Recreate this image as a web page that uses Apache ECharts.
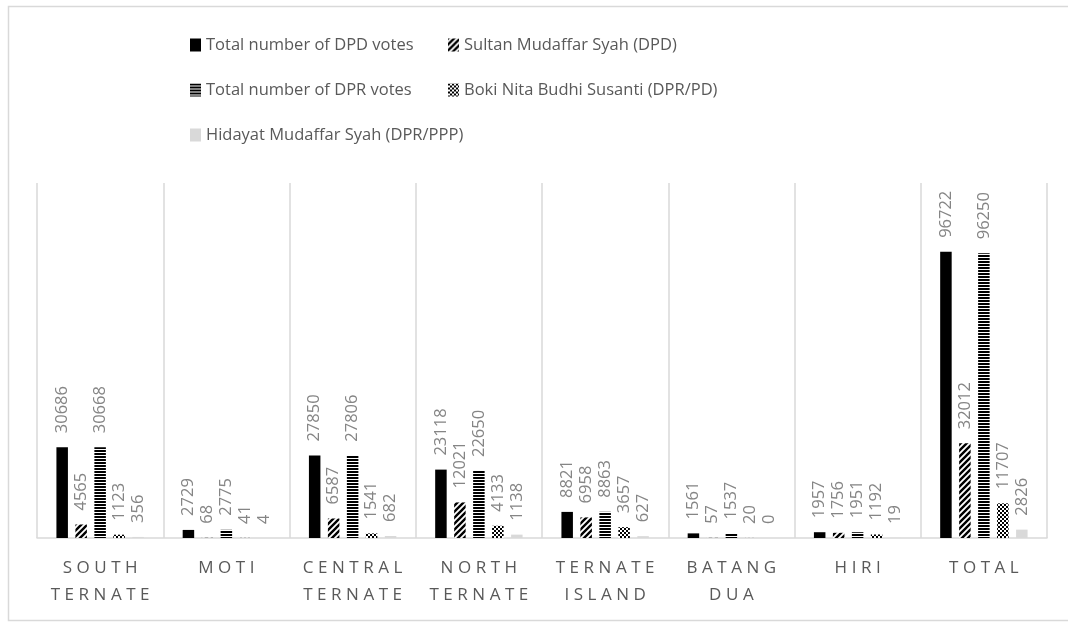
<!DOCTYPE html>
<html>
<head>
<meta charset="utf-8">
<script src="https://cdn.jsdelivr.net/npm/echarts@6/dist/echarts.min.js"></script>
<style>
  html, body { margin: 0; padding: 0; background: #fff; }
  #chart { width: 1068px; height: 622px; }
</style>
</head>
<body>
<div id="chart"></div>
<script>
// districts
const districts = ['SOUTH TERNATE', 'MOTI', 'CENTRAL TERNATE', 'NORTH TERNATE', 'TERNATE ISLAND', 'BATANG DUA', 'HIRI', 'TOTAL']
const seriesNames = [
    'Total number of DPD votes',
    'Sultan Mudaffar Syah (DPD)',
    'Total number of DPR votes',
    'Boki Nita Budhi Susanti (DPR/PD)',
    'Hidayat Mudaffar Syah (DPR/PPP)'
]
const dpdTotal = [30686, 2729, 27850, 23118, 8821, 1561, 1957, 96722]
const sultanDpd = [4565, 68, 6587, 12021, 6958, 57, 1756, 32012]
const dprTotal = [30668, 2775, 27806, 22650, 8863, 1537, 1951, 96250]
const bokiDpr = [1123, 41, 1541, 4133, 3657, 20, 1192, 11707]
const hidayatDpr = [356, 4, 682, 1138, 627, 0, 19, 2826]

// little canvas tiles for the excel-like fills
function tile(size, draw) {
    const c = document.createElement('canvas')
    c.width = size
    c.height = size
    const ctx = c.getContext('2d')
    ctx.fillStyle = '#fff'
    ctx.fillRect(0, 0, size, size)
    ctx.fillStyle = '#000'
    ctx.strokeStyle = '#000'
    draw(ctx, size)
    return {image: c, repeat: 'repeat'}
}

const diagFill = tile(6, function (ctx, s) {
    ctx.lineWidth = 2.4
    ctx.beginPath()
    ctx.moveTo(-1, s + 1); ctx.lineTo(s + 1, -1)
    ctx.moveTo(-1, 1); ctx.lineTo(1, -1)
    ctx.moveTo(s - 1, s + 1); ctx.lineTo(s + 1, s - 1)
    ctx.stroke()
})
const hLineFill = tile(3, function (ctx, s) {
    ctx.fillRect(0, 0, s, 2)
})
const checkFill = tile(4, function (ctx, s) {
    ctx.fillRect(0, 0, 2, 2)
    ctx.fillRect(2, 2, 2, 2)
})

const fills = ['#000000', diagFill, hLineFill, checkFill, '#d9d9d9']
const values = [dpdTotal, sultanDpd, dprTotal, bokiDpr, hidayatDpr]

const fontName = '"Open Sans", "Noto Sans", sans-serif'

function spaced(name) {
    return name.split(' ').map(w => w.split('').join('\u2009\u200A')).join('\n')
}

let series = []
for (let i = 0; i < seriesNames.length; i++) {
    series.push({
        name: seriesNames[i],
        type: 'bar',
        data: values[i],
        barWidth: 11.5,
        barGap: '65%',
        itemStyle: {color: fills[i]},
        label: {
            show: true,
            position: 'top',
            rotate: 90,
            align: 'left',
            verticalAlign: 'middle',
            distance: 14,
            color: '#858585',
            fontSize: 16.5,
            fontFamily: fontName
        },
        emphasis: {disabled: true}
    })
}

const legendText = {color: '#595959', fontSize: 16.5, fontFamily: fontName, lineHeight: 20}

const chart = echarts.init(document.getElementById('chart'))
chart.setOption({
    backgroundColor: '#ffffff',
    animation: false,
    graphic: [{
        type: 'rect',
        shape: {x: 8.5, y: 6.5, width: 1080, height: 614},
        style: {fill: 'none', stroke: '#d9d9d9', lineWidth: 1.5},
        silent: true
    }],
    legend: [{
        orient: 'vertical',
        left: 190,
        top: 35,
        padding: 0,
        itemWidth: 11,
        itemHeight: 13,
        itemGap: 25,
        icon: 'rect',
        textStyle: legendText,
        data: [seriesNames[0], seriesNames[2], seriesNames[4]],
        selectedMode: false
    }, {
        orient: 'vertical',
        left: 448,
        top: 35,
        padding: 0,
        itemWidth: 11,
        itemHeight: 13,
        itemGap: 25,
        icon: 'rect',
        textStyle: legendText,
        data: [seriesNames[1], seriesNames[3]],
        selectedMode: false
    }],
    grid: {left: 37, right: 21, top: 183, bottom: 84},
    xAxis: {
        type: 'category',
        data: districts,
        axisLine: {lineStyle: {color: '#d9d9d9', width: 1.5}},
        axisTick: {show: false},
        splitLine: {show: true, lineStyle: {color: '#d9d9d9', width: 1.5}},
        axisLabel: {
            interval: 0,
            margin: 17,
            color: '#595959',
            fontSize: 17,
            fontFamily: fontName,
            lineHeight: 27,
            formatter: spaced
        }
    },
    yAxis: {
        type: 'value',
        min: 0,
        max: 120000,
        show: false,
        splitLine: {show: false}
    },
    series: series
})
</script>
</body>
</html>
